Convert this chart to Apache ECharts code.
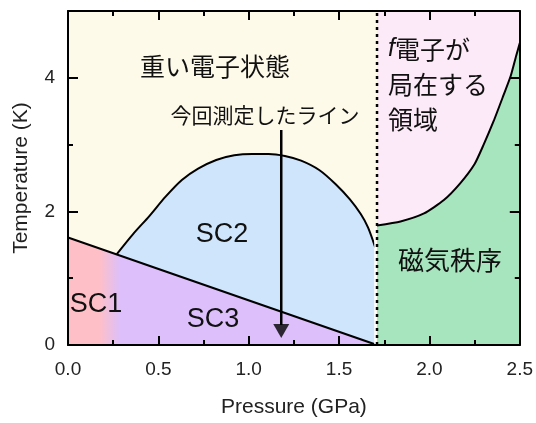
<!DOCTYPE html>
<html>
<head>
<meta charset="utf-8">
<script src="https://cdn.jsdelivr.net/npm/echarts@6/dist/echarts.min.js"></script>
<style>
html,body{margin:0;padding:0;background:#fff;}
#c{width:536px;height:423px;}
</style>
</head>
<body>
<div id="c"></div>
<script>
// ---- data (Pressure GPa, Temperature K) ----
const xTicks = [0.0, 0.5, 1.0, 1.5, 2.0, 2.5];
const yTicks = [0, 2, 4];
const scBoundary = [[0, 1.61], [1.71, 0]];
const sc2Dome = [[0.27, 1.36], [0.36, 1.66], [0.45, 1.93], [0.54, 2.22], [0.63, 2.47], [0.72, 2.64], [0.82, 2.77], [0.92, 2.84], [1.02, 2.86], [1.11, 2.86], [1.20, 2.83], [1.29, 2.76], [1.39, 2.62], [1.48, 2.41], [1.56, 2.18], [1.62, 1.96], [1.66, 1.76], [1.70, 1.46]];
const magBoundary = [[1.71, 1.79], [1.84, 1.85], [1.97, 1.97], [2.08, 2.17], [2.17, 2.42], [2.25, 2.71], [2.30, 3.0], [2.355, 3.35], [2.41, 3.74], [2.45, 4.03], [2.48, 4.33], [2.5, 4.52]];
const fLocalTop = [[1.71, 5], [2.5, 5]];
const crossover = [[1.71, 0], [1.71, 5]];
const whiteGap = [[1.70, 0], [1.70, 1.75]];
const measureLine = [[1.18, 3.22], [1.18, 0.3]];
const arrowHead = [[1.18, 0.21]];

const COL = {
  bg: '#FEFAEA', pink: '#FDEAF8', green: '#A7E5BE', blue: '#CFE5FC',
  sc1: '#FFBFC7', sc3: '#DCBFFB'
};
const LAT = '"Liberation Sans", Arial, sans-serif';
const JP = '"Noto Sans CJK JP", sans-serif';

const chart = echarts.init(document.getElementById('c'), null, {renderer: 'canvas'});

const baseX = {
  type: 'value', min: 0, max: 2.5, interval: 0.5, z: 10,
  axisLine: {show: true, onZero: false, lineStyle: {color: '#000', width: 2}},
  axisTick: {show: true, inside: true, length: 9, lineStyle: {color: '#000', width: 2}},
  minorTick: {show: true, splitNumber: 2, length: 5, lineStyle: {color: '#000', width: 2}},
  splitLine: {show: false}, minorSplitLine: {show: false}
};
const baseY = {
  type: 'value', min: 0, max: 5, interval: 2, z: 10,
  axisLine: {show: true, onZero: false, lineStyle: {color: '#000', width: 2}},
  axisTick: {show: true, inside: true, length: 10, lineStyle: {color: '#000', width: 2}},
  minorTick: {show: true, splitNumber: 2, length: 5, lineStyle: {color: '#000', width: 2}},
  splitLine: {show: false}, minorSplitLine: {show: false}
};

function areaSeries(data, fill, lineColor, z, smooth) {
  return {
    type: 'line', data: data, z: z, silent: true, showSymbol: false, symbol: 'none',
    smooth: smooth || false, animation: false,
    lineStyle: {color: lineColor || 'transparent', width: lineColor ? 2 : 0},
    areaStyle: {color: fill, opacity: 1}
  };
}

chart.setOption({
  animation: false,
  backgroundColor: '#fff',
  grid: {left: 68, right: 12, top: 11, bottom: 72, show: true, backgroundColor: COL.bg, borderWidth: 0},
  xAxis: [
    Object.assign({}, baseX, {
      position: 'bottom',
      name: 'Pressure (GPa)', nameLocation: 'middle', nameGap: 52,
      nameTextStyle: {fontFamily: LAT, fontSize: 21, color: '#222'},
      axisLabel: {margin: 15, fontFamily: LAT, fontSize: 19, color: '#222',
        formatter: v => xTicks.some(t => Math.abs(t - v) < 1e-9) ? v.toFixed(1) : ''}
    }),
    Object.assign({}, baseX, {position: 'top', axisLabel: {show: false}})
  ],
  yAxis: [
    Object.assign({}, baseY, {
      position: 'left',
      name: 'Temperature (K)', nameLocation: 'middle', nameGap: 36, nameRotate: 90,
      nameTextStyle: {fontFamily: LAT, fontSize: 21, color: '#222'},
      axisLabel: {margin: 13, fontFamily: LAT, fontSize: 19, color: '#222',
        formatter: v => yTicks.indexOf(v) >= 0 ? String(v) : ''}
    }),
    Object.assign({}, baseY, {position: 'right', axisLabel: {show: false}})
  ],
  series: [
    areaSeries(fLocalTop, COL.pink, null, 1),
    areaSeries(magBoundary, COL.green, '#000', 2, 0.2),
    areaSeries(sc2Dome, COL.blue, '#000', 3, 0.3),
    areaSeries(scBoundary, {
      type: 'linear', x: 0, y: 0, x2: 1, y2: 0,
      colorStops: [
        {offset: 0, color: COL.sc1}, {offset: 0.10, color: COL.sc1},
        {offset: 0.17, color: COL.sc3}, {offset: 1, color: COL.sc3}
      ]
    }, '#000', 4),
    {type: 'line', data: whiteGap, z: 5, silent: true, symbol: 'none', animation: false,
      lineStyle: {color: '#fff', width: 2}},
    {type: 'line', data: crossover, z: 6, silent: true, symbol: 'none', animation: false,
      lineStyle: {color: '#000', width: 2.5, type: [3, 4]}},
    {type: 'line', data: measureLine, z: 7, silent: true, symbol: 'none', animation: false,
      lineStyle: {color: '#000', width: 2.5}},
    {type: 'scatter', data: arrowHead, z: 8, silent: true, animation: false,
      symbol: 'triangle', symbolRotate: 180, symbolSize: [16, 14],
      itemStyle: {color: '#000'}}
  ],
  graphic: [
    {type: 'text', z: 20, x: 215, y: 66, style: {text: '重い電子状態', font: '25px ' + JP, fill: '#111', align: 'center', verticalAlign: 'middle'}},
    {type: 'text', z: 20, x: 265, y: 115, style: {text: '今回測定したライン', font: '21px ' + JP, fill: '#111', align: 'center', verticalAlign: 'middle'}},
    {type: 'text', z: 20, x: 388, y: 32, style: {
      text: '{i|f}電子が\n局在する\n領域', font: '25px ' + JP, fill: '#111', lineHeight: 35,
      align: 'left', verticalAlign: 'top',
      rich: {i: {fontStyle: 'italic', fontFamily: LAT, fontSize: 25, fill: '#111', lineHeight: 35}}
    }},
    {type: 'text', z: 20, x: 450, y: 260, style: {text: '磁気秩序', font: '26px ' + JP, fill: '#111', align: 'center', verticalAlign: 'middle'}},
    {type: 'text', z: 20, x: 222, y: 235, style: {text: 'SC2', font: '27px ' + LAT, fill: '#111', align: 'center', verticalAlign: 'middle'}},
    {type: 'text', z: 20, x: 96, y: 305, style: {text: 'SC1', font: '27px ' + LAT, fill: '#111', align: 'center', verticalAlign: 'middle'}},
    {type: 'text', z: 20, x: 213, y: 320, style: {text: 'SC3', font: '27px ' + LAT, fill: '#111', align: 'center', verticalAlign: 'middle'}}
  ]
});
</script>
</body>
</html>
